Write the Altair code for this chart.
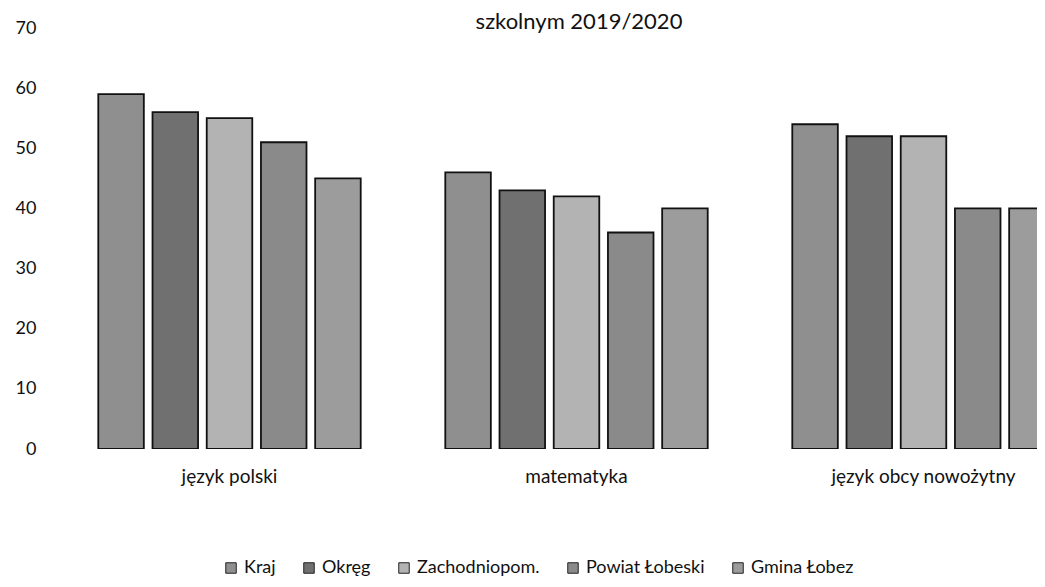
import altair as alt
import pandas as pd

subjects = ["język polski", "matematyka", "język obcy nowożytny"]
series = ["Kraj", "Okręg", "Zachodniopom.", "Powiat Łobeski", "Gmina Łobez"]
values = {
    "Kraj": [59, 46, 54],
    "Okręg": [56, 43, 52],
    "Zachodniopom.": [55, 42, 52],
    "Powiat Łobeski": [51, 36, 40],
    "Gmina Łobez": [45, 40, 40],
}
colors = ["#8f8f8f", "#707070", "#b3b3b3", "#8a8a8a", "#9c9c9c"]
title_text = "szkolnym 2019/2020"
y_ticks = [0, 10, 20, 30, 40, 50, 60, 70]

rows = []
for s in series:
    for subj, v in zip(subjects, values[s]):
        rows.append({"subject": subj, "series": s, "value": v})
df = pd.DataFrame(rows)

FONT = "Lato"

bars = alt.Chart(df).mark_bar(stroke="#111111", strokeWidth=1.8, clip=True).encode(
    x=alt.X("subject:N", sort=subjects, title=None,
            scale=alt.Scale(range=[0, 1041], paddingInner=0, paddingOuter=0),
            axis=alt.Axis(labelAngle=0, domain=False, ticks=False, labelFontSize=19,
                          labelFont=FONT, labelColor="#111111", labelPadding=18,
                          labelLimit=400)),
    xOffset=alt.XOffset("series:N", sort=series,
                        scale=alt.Scale(paddingInner=0.16, paddingOuter=0.78)),
    y=alt.Y("value:Q", title=None,
            scale=alt.Scale(domain=[0, 70], nice=False),
            axis=alt.Axis(values=y_ticks, grid=False, domain=False, ticks=False,
                          labelFontSize=18, labelFont=FONT, labelColor="#111111",
                          labelPadding=20)),
    color=alt.Color("series:N", sort=series,
                    scale=alt.Scale(domain=series, range=colors),
                    legend=alt.Legend(title=None, orient="none", legendX=166, legendY=531,
                                      direction="horizontal", columns=5,
                                      symbolType="square", symbolSize=110,
                                      symbolStrokeColor="#222222", symbolStrokeWidth=1,
                                      labelFontSize=18, labelFont=FONT,
                                      labelColor="#111111", columnPadding=24,
                                      labelOffset=4)),
)

title_df = pd.DataFrame({"t": [title_text]})
title = alt.Chart(title_df).mark_text(fontSize=22, font=FONT, baseline="alphabetic",
                                      align="center", color="#111111").encode(
    x=alt.value(523), y=alt.value(1), text="t:N")

chart = alt.layer(bars, title).properties(
    width=981, height=421,
    autosize=alt.AutoSizeParams(type="none"),
    padding={"left": 48, "top": 20, "right": 0, "bottom": 130},
).configure_view(stroke=None)

chart.save("out.html", embed_options={"renderer": "svg", "actions": False})
